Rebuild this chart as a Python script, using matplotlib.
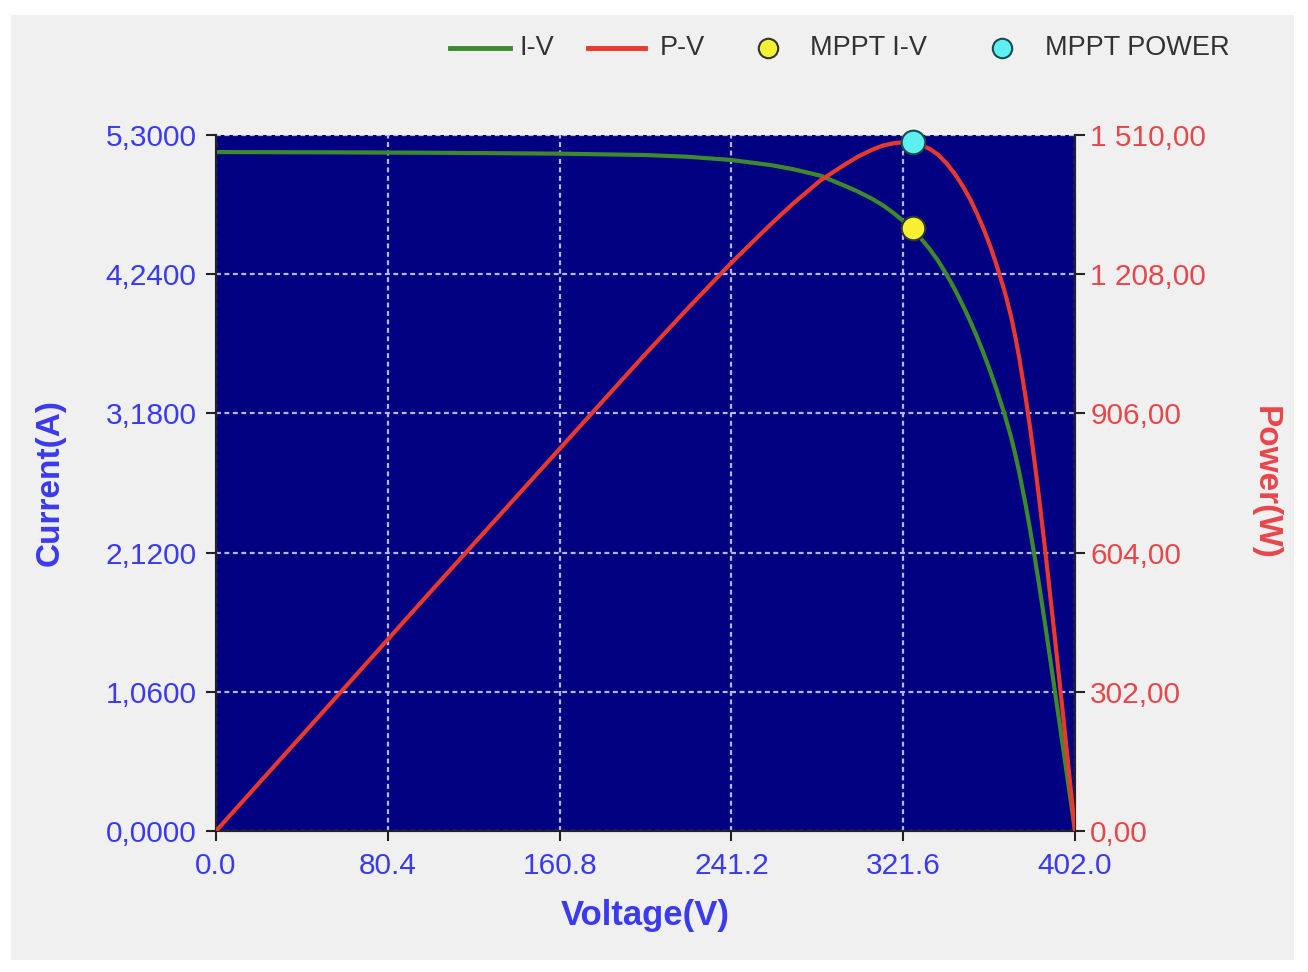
import matplotlib
matplotlib.use("Agg")
import matplotlib.pyplot as plt
from matplotlib.lines import Line2D
from matplotlib.patches import Rectangle
from matplotlib.ticker import FixedLocator, FuncFormatter

# ---- data ----
iv_voltage = [0, 50, 100, 160, 200, 220, 241, 260, 270, 283, 295, 300, 307, 312, 317,
              321, 326, 330, 334, 338, 342, 346, 350, 353, 356, 359, 362, 365, 369,
              372, 374, 376, 379, 381, 383, 385, 388, 390, 393, 397, 400, 402]
iv_current = [5.17, 5.168, 5.165, 5.158, 5.148, 5.135, 5.11, 5.07, 5.04, 4.99, 4.908,
              4.872, 4.815, 4.766, 4.707, 4.654, 4.579, 4.51, 4.431, 4.34, 4.235,
              4.117, 3.987, 3.881, 3.768, 3.646, 3.516, 3.376, 3.176, 3.004, 2.871,
              2.724, 2.476, 2.294, 2.10, 1.896, 1.575, 1.353, 1.02, 0.57, 0.228, 0.0]
pv_voltage = [0, 50, 100, 160, 200, 220, 241, 260, 270, 283, 295, 300, 307, 312, 317,
              321, 326, 330, 334, 338, 342, 346, 350, 353, 356, 359, 362, 365, 369,
              372, 374, 376, 379, 381, 383, 385, 388, 390, 393, 397, 400, 402]
pv_power = [0, 258, 517, 825, 1030, 1130, 1232, 1318, 1361, 1412, 1448, 1462, 1478,
            1487, 1492, 1494, 1493, 1488, 1480, 1467, 1448, 1424, 1395, 1370, 1341,
            1309, 1273, 1232, 1172, 1118, 1074, 1024, 938, 874, 804, 730, 611, 528,
            401, 226, 91, 0]
mppt_voltage = 326.0
mppt_current = 4.59
mppt_power = 1495.0

x_ticks = [0.0, 80.4, 160.8, 241.2, 321.6, 402.0]
i_ticks = [0.0, 1.06, 2.12, 3.18, 4.24, 5.30]
p_ticks = [0.0, 302.0, 604.0, 906.0, 1208.0, 1510.0]
legend_labels = ["I-V", "P-V", "MPPT I-V", "MPPT POWER"]

# ---- styling ----
W, H = 1308, 972
fig = plt.figure(figsize=(W / 100, H / 100), dpi=100, facecolor="white")
fig.patches.append(Rectangle((11 / W, 12 / H), 1283 / W, 945 / H,
                             transform=fig.transFigure, facecolor="#f0f0f0",
                             edgecolor="none", zorder=-10))

font = "Liberation Sans"
blue = "#3a3aee"
red_txt = "#e8474a"
navy = "#000080"
green = "#3c8a2c"
red = "#e8392c"
grid_c = "#b8b8ee"
yellow = "#f5f032"
cyan = "#5ef0f0"

ax = fig.add_axes([216 / W, (H - 831) / H, 859 / W, 696 / H])
ax.set_facecolor(navy)
ax.set_xlim(0, 402)
ax.set_ylim(0, 5.3)
ax2 = ax.twinx()
ax2.set_ylim(0, 1510)

ax.plot(iv_voltage, iv_current, color=green, lw=3, zorder=3,
        solid_joinstyle="round", solid_capstyle="round")
ax2.plot(pv_voltage, pv_power, color=red, lw=3, zorder=3,
         solid_joinstyle="round", solid_capstyle="round")
ax.plot([mppt_voltage], [mppt_current], "o", ms=17, mfc=yellow, mec="#333333",
        mew=1.5, zorder=5, clip_on=False)
ax2.plot([mppt_voltage], [mppt_power], "o", ms=17, mfc=cyan, mec="#1a4a50",
         mew=1.5, zorder=5, clip_on=False)

ax.xaxis.set_major_locator(FixedLocator(x_ticks))
ax.yaxis.set_major_locator(FixedLocator(i_ticks))
ax2.yaxis.set_major_locator(FixedLocator(p_ticks))
ax.xaxis.set_major_formatter(FuncFormatter(lambda v, p: f"{v:.1f}"))
ax.yaxis.set_major_formatter(FuncFormatter(lambda v, p: f"{v:.4f}".replace(".", ",")))


def pfmt(v, p):
    s = f"{v:,.2f}"
    return s.replace(",", " ").replace(".", ",")


ax2.yaxis.set_major_formatter(FuncFormatter(pfmt))

ax.grid(True, color=grid_c, lw=1.6, linestyle=(0, (2.2, 1.6)))
ax.set_axisbelow(True)

for a in (ax, ax2):
    a.spines["top"].set_visible(False)
    for s in ("left", "right", "bottom"):
        a.spines[s].set_color("#222222")
        a.spines[s].set_linewidth(1.5)

ax.tick_params(axis="x", direction="out", length=7, width=1.5, color="#222222",
               labelcolor=blue, labelsize=21.5, pad=8)
ax.tick_params(axis="y", direction="out", length=7, width=1.5, color="#222222",
               labelcolor=blue, labelsize=21.5, pad=7)
ax2.tick_params(axis="y", direction="out", length=7, width=1.5, color="#222222",
                labelcolor=red_txt, labelsize=21.5, pad=4)
for lab in ax.get_xticklabels() + ax.get_yticklabels() + ax2.get_yticklabels():
    lab.set_fontfamily(font)

ax.set_xlabel("Voltage(V)", color=blue, fontsize=25, fontweight="bold",
              fontfamily=font, labelpad=14)
ax.set_ylabel("Current(A)", color=blue, fontsize=24, fontweight="bold",
              fontfamily=font, labelpad=29)
ax2.set_ylabel("Power(W)", color=red_txt, fontsize=24, fontweight="bold",
               fontfamily=font, rotation=-90, labelpad=54)

# ---- legend drawn along the top of the panel ----
ly = 1 - 48 / H
fig.add_artist(Line2D([450 / W, 510 / W], [ly, ly], transform=fig.transFigure,
                      color=green, lw=3.5))
fig.add_artist(Line2D([588 / W, 645 / W], [ly, ly], transform=fig.transFigure,
                      color=red, lw=3.5))
fig.add_artist(Line2D([768 / W], [ly], transform=fig.transFigure, ls="none",
                      marker="o", ms=14, mfc=yellow, mec="#333333", mew=1.5))
fig.add_artist(Line2D([1002 / W], [ly], transform=fig.transFigure, ls="none",
                      marker="o", ms=14, mfc=cyan, mec="#1a4a50", mew=1.5))
for x0, lab in zip([520, 660, 810, 1045], legend_labels):
    fig.text(x0 / W, ly, lab, ha="left", va="center", fontsize=19.5,
             fontfamily=font, color="#333333")

fig.savefig("out.png", dpi=100, facecolor="white")
